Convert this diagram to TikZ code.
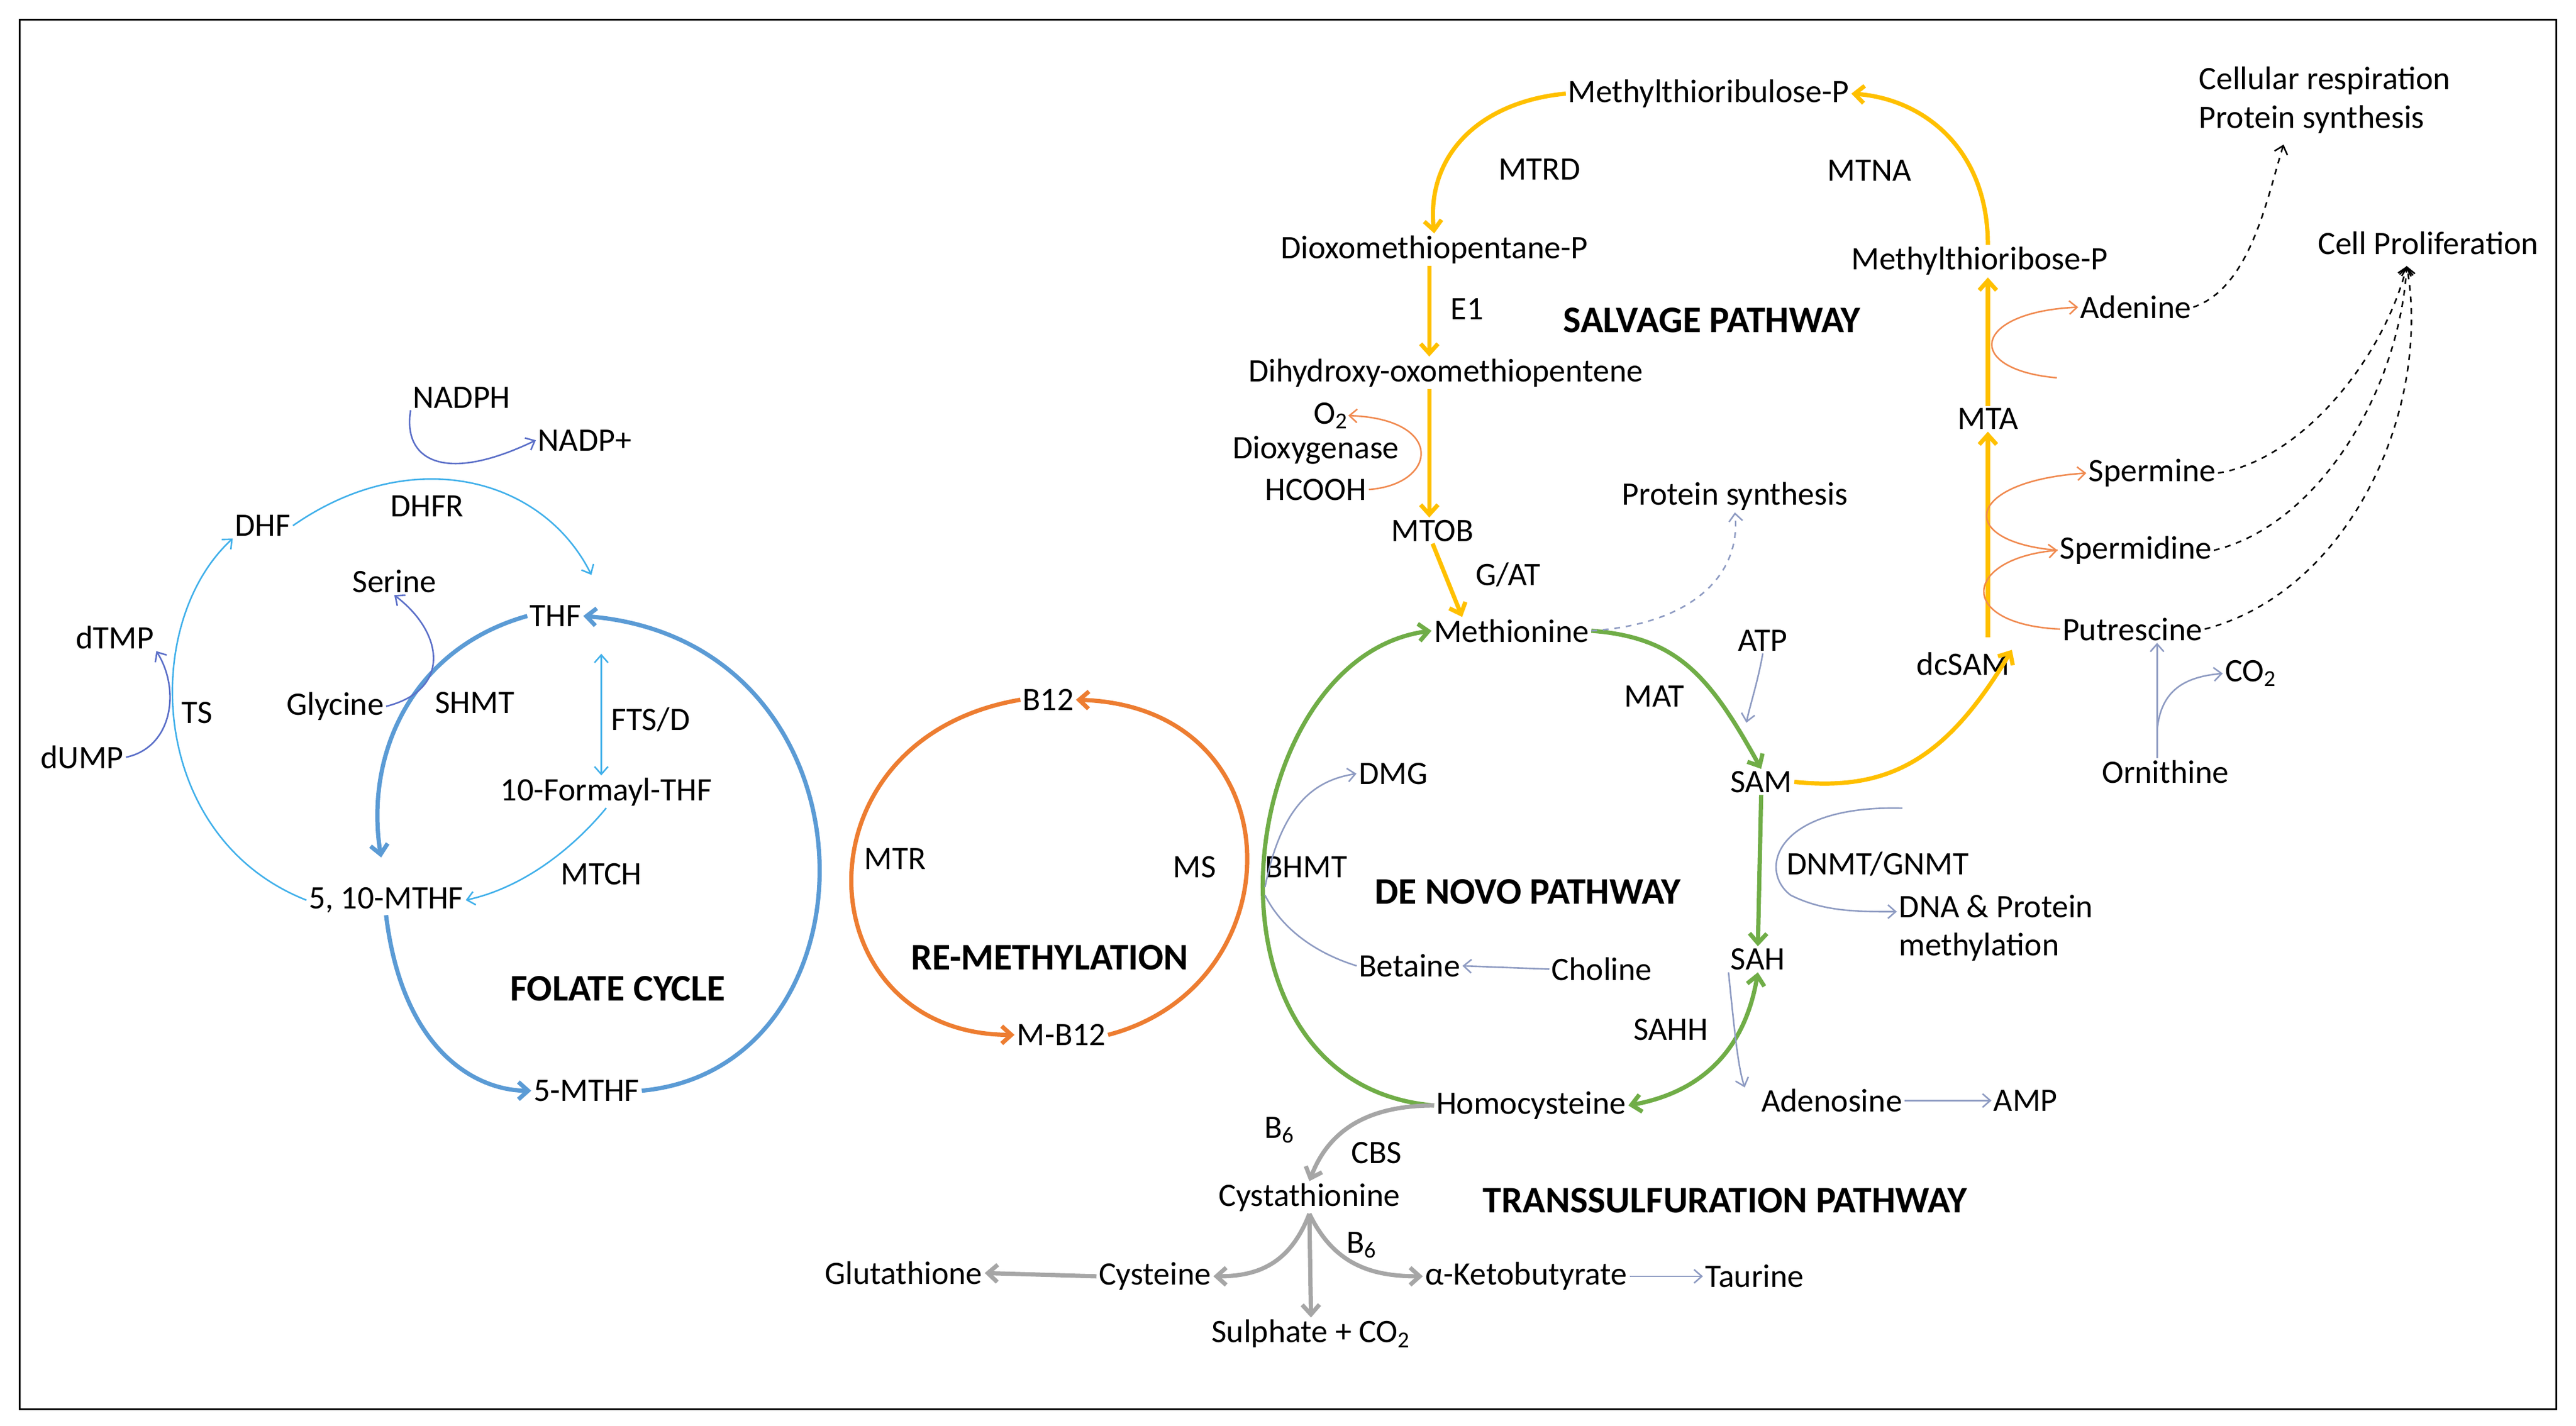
\documentclass[tikz,border=0pt]{standalone}
\usepackage{fontspec}
\setmainfont{Carlito}
\usetikzlibrary{arrows.meta}
\definecolor{fblue}{HTML}{5B9BD5}
\definecolor{lblue}{HTML}{41B0EA}
\definecolor{pblue}{HTML}{5B6FC8}
\definecolor{oran}{HTML}{ED7D31}
\definecolor{lor}{HTML}{F08A50}
\definecolor{grn}{HTML}{70AD47}
\definecolor{yel}{HTML}{FFC000}
\definecolor{gb}{HTML}{8E9BC2}
\definecolor{gry}{HTML}{A6A6A6}
\tikzset{
 t/.style={font=\fontsize{17}{20}\selectfont, inner sep=1pt},
 h/.style={font=\fontsize{19.5}{22}\selectfont\bfseries, inner sep=1pt},
 thick1/.style={line width=2.2pt,-{Straight Barb[length=5pt,width=9pt]}},
 thin1/.style={line width=0.8pt,-{Straight Barb[length=4pt,width=7pt]}},
 F/.style={thick1,fblue}, LB/.style={thin1,lblue}, PB/.style={thin1,pblue},
 O/.style={thick1,oran}, LO/.style={thin1,lor}, G/.style={thick1,grn},
 Y/.style={thick1,yel}, GB/.style={thin1,gb}, GR/.style={thick1,gry},
 K/.style={thin1,black,dashed}
}
\begin{document}
\begin{tikzpicture}[x=0.03cm,y=-0.03cm]
\useasboundingbox (0,0) rectangle (1568,868);
\draw[line width=1pt] (12,12) rectangle (1556,858);
% nodes
\node[t] (mtrp) at (1040,57) {Methylthioribulose-P};
\node[t] (mtrd) at (937,103) {MTRD};
\node[t] (mtna) at (1138,104) {MTNA};
\node[t,align=left] (cr) at (1415,61) {Cellular respiration\\Protein synthesis};
\node[t] (dox) at (873,152) {Dioxomethiopentane-P};
\node[t] (mtbp) at (1205,159) {Methylthioribose-P};
\node[t] (cp) at (1478,148) {Cell Proliferation};
\node[t] (e1) at (893,188) {E1};
\node[h] (salv) at (1042,195) {SALVAGE PATHWAY};
\node[t] (aden) at (1300,187) {Adenine};
\node[t] (dih) at (880,227) {Dihydroxy-oxomethiopentene};
\node[t] (mta) at (1210,255) {MTA};
\node[t,inner sep=0pt] (o2) at (810,253) {O\textsubscript{2}};
\node[t,inner sep=0pt] (diox) at (801,274) {Dioxygenase};
\node[t] (hcooh) at (801,298) {HCOOH};
\node[t] (sperm) at (1310,288) {Spermine};
\node[t] (ps) at (1056,302) {Protein synthesis};
\node[t] (mtob) at (872,323) {MTOB};
\node[t] (gat) at (918,350) {G/AT};
\node[t] (spd) at (1300,335) {Spermidine};
\node[t] (met) at (920,384) {Methionine};
\node[t] (put) at (1298,383) {Putrescine};
\node[t] (atp) at (1073,390) {ATP};
\node[t] (dcsam) at (1195,404) {dcSAM};
\node[t] (co2) at (1370,410) {CO\textsubscript{2}};
\node[t] (mat) at (1007,424) {MAT};
\node[t] (sam) at (1072,476) {SAM};
\node[t] (orn) at (1318,470) {Ornithine};
\node[t] (dmg) at (848,471) {DMG};
\node[t] (dnmt) at (1143,526) {DNMT/GNMT};
\node[t] (bhmt) at (795,528) {BHMT};
\node[t] (ms) at (727,528) {MS};
\node[t] (mtr) at (545,523) {MTR};
\node[t] (b12) at (638,426) {B12};
\node[h] (dnp) at (930,543) {DE NOVO PATHWAY};
\node[t,align=left] (dna) at (1215,565) {DNA \& Protein\\methylation};
\node[h] (rem) at (639,583) {RE-METHYLATION};
\node[t] (mb12) at (646,630) {M-B12};
\node[t] (bet) at (858,588) {Betaine};
\node[t] (chol) at (975,590) {Choline};
\node[t] (sah) at (1070,584) {SAH};
\node[t] (sahh) at (1017,627) {SAHH};
\node[t] (hcy) at (932,673) {Homocysteine};
\node[t] (ado) at (1115,670) {Adenosine};
\node[t] (amp) at (1233,670) {AMP};
\node[t] (b6a) at (779,688) {B\textsubscript{6}};
\node[t] (cbs) at (838,702) {CBS};
\node[t] (cys) at (797,729) {Cystathionine};
\node[h] (trans) at (1050,731) {TRANSSULFURATION PATHWAY};
\node[t] (b6b) at (829,758) {B\textsubscript{6}};
\node[t] (glu) at (550,775) {Glutathione};
\node[t] (cyst) at (703,777) {Cysteine};
\node[t] (akb) at (929,777) {α-Ketobutyrate};
\node[t] (tau) at (1068,777) {Taurine};
\node[t] (sul) at (798,812) {Sulphate + CO\textsubscript{2}};
% folate
\node[t] (nadph) at (281,242) {NADPH};
\node[t] (nadp) at (356,268) {NADP+};
\node[t] (dhf) at (160,320) {DHF};
\node[t] (dhfr) at (260,308) {DHFR};
\node[t] (ser) at (240,354) {Serine};
\node[t] (thf) at (338,375) {THF};
\node[t] (dtmp) at (70,388) {dTMP};
\node[t] (ts) at (120,434) {TS};
\node[t] (gly) at (204,430) {Glycine};
\node[t] (shmt) at (289,428) {SHMT};
\node[t] (fts) at (396,438) {FTS/D};
\node[t] (dump) at (50,461) {dUMP};
\node[t] (fthf) at (369,482) {10-Formayl-THF};
\node[t] (mthf) at (235,548) {5, 10-MTHF};
\node[t] (mtch) at (366,532) {MTCH};
\node[h] (fc) at (376,602) {FOLATE CYCLE};
\node[t] (5m) at (357,664) {5-MTHF};
% folate arrows
\draw[F] (5m.east) .. controls (540,650) and (540,390) .. (thf.east);
\draw[F] (thf.west) .. controls (250,395) and (222,460) .. (232,522);
\draw[F] (mthf.south) .. controls (245,640) and (290,664) .. (5m.west);
\draw[LB] (mthf.west) .. controls (90,510) and (85,380) .. (dhf.south west);
\draw[LB] (dhf.east) .. controls (250,270) and (330,290) .. (360,350);
\draw[lblue,line width=0.8pt,{Straight Barb[length=4pt,width=7pt]}-{Straight Barb[length=4pt,width=7pt]}] (366,398) -- (fthf.north -| 366,0);
\draw[LB] (fthf.south) .. controls (350,515) and (320,540) .. (mthf.east);
\draw[PB] (nadph.south west) .. controls (245,280) and (270,295) .. (nadp.west);
\draw[PB] (dump.east) .. controls (105,455) and (110,420) .. (dtmp.south east);
\draw[PB] (gly.east) .. controls (275,420) and (270,385) .. (ser.south);
% remethylation
\draw[O] (mb12.east) .. controls (790,600) and (790,430) .. (b12.east);
\draw[O] (b12.west) .. controls (480,450) and (490,630) .. (mb12.west);
% green
\draw[G] (hcy.west) .. controls (720,660) and (750,400) .. (met.west);
\draw[G] (met.east) .. controls (1020,388) and (1040,410) .. (sam.north);
\draw[G] (sam.south) -- (sah.north);
\draw[grn,line width=2.2pt,{Straight Barb[length=5pt,width=9pt]}-{Straight Barb[length=5pt,width=9pt]}] (sah.south) .. controls (1062,640) and (1035,665) .. (hcy.east);
% yellow
\draw[Y] (mtrp.west) .. controls (900,62) and (868,95) .. (dox.north);
\draw[Y] (dox.south -| 870,0) -- (dih.north -| 870,0);
\draw[Y] (dih.south -| 870,0) -- (mtob.north -| 870,0);
\draw[Y] (mtob.south) -- (met.north -| 890,0);
\draw[Y] (sam.east) .. controls (1150,482) and (1185,462) .. (dcsam.north east);
\draw[Y] (1210,388) -- (mta.south);
\draw[Y] (mta.north) -- (mtbp.south -| 1210,0);
\draw[Y] (mtbp.north -| 1210,0) .. controls (1210,90) and (1170,60) .. (mtrp.east);
% light orange
\coordinate (adst) at (1252,230);
\draw[LO] (hcooh.east) .. controls (875,295) and (880,255) .. (o2.east);
\draw[LO] (adst) .. controls (1195,225) and (1200,190) .. (aden.west);
\draw[LO] (spd.west) .. controls (1190,330) and (1195,293) .. (sperm.west);
\draw[LO] (put.west) .. controls (1190,380) and (1195,340) .. (spd.west);
% gray-blue
\draw[gb,line width=0.8pt,dashed,-{Straight Barb[length=4pt,width=7pt]}] (met.east) .. controls (1030,380) and (1060,350) .. (ps.south);
\draw[GB] (atp.south) .. controls (1070,415) and (1065,430) .. (1063,440);
\draw[GB] (770,540) .. controls (780,490) and (800,475) .. (dmg.west);
\draw[gb,line width=0.8pt] (bet.west) .. controls (800,580) and (780,565) .. (770,545);
\draw[GB] (chol.west) -- (bet.east);
\draw[GB] (1158,492) .. controls (1080,490) and (1070,530) .. (1090,545) .. controls (1110,555) and (1130,555) .. (dna.west |- 0,555);
\draw[GB] (orn.north -| 1313,0) -- (put.south -| 1313,0);
\draw[GB] (1313,445) .. controls (1315,420) and (1330,412) .. (co2.west);
\draw[GB] (sah.south west) .. controls (1056,630) and (1058,650) .. (1062,662);
\draw[GB] (ado.east) -- (amp.west);
\draw[GB] (akb.east) -- (tau.west);
% gray
\draw[GR] (hcy.west) .. controls (830,673) and (808,690) .. (cys.north);
\draw[GR] (cys.south) .. controls (785,770) and (765,777) .. (cyst.east);
\draw[GR] (cys.south) -- (sul.north);
\draw[GR] (cys.south) .. controls (812,770) and (835,777) .. (akb.west);
\draw[GR] (cyst.west) -- (glu.east);
% black dashed
\draw[K] (aden.east) .. controls (1370,175) and (1380,120) .. (1390,88);
\draw[K] (sperm.east) .. controls (1400,280) and (1450,220) .. (1465,162);
\draw[K] (spd.east) .. controls (1410,320) and (1460,240) .. (1465,162);
\draw[K] (put.east) .. controls (1430,360) and (1480,250) .. (1465,162);
\end{tikzpicture}
\end{document}
